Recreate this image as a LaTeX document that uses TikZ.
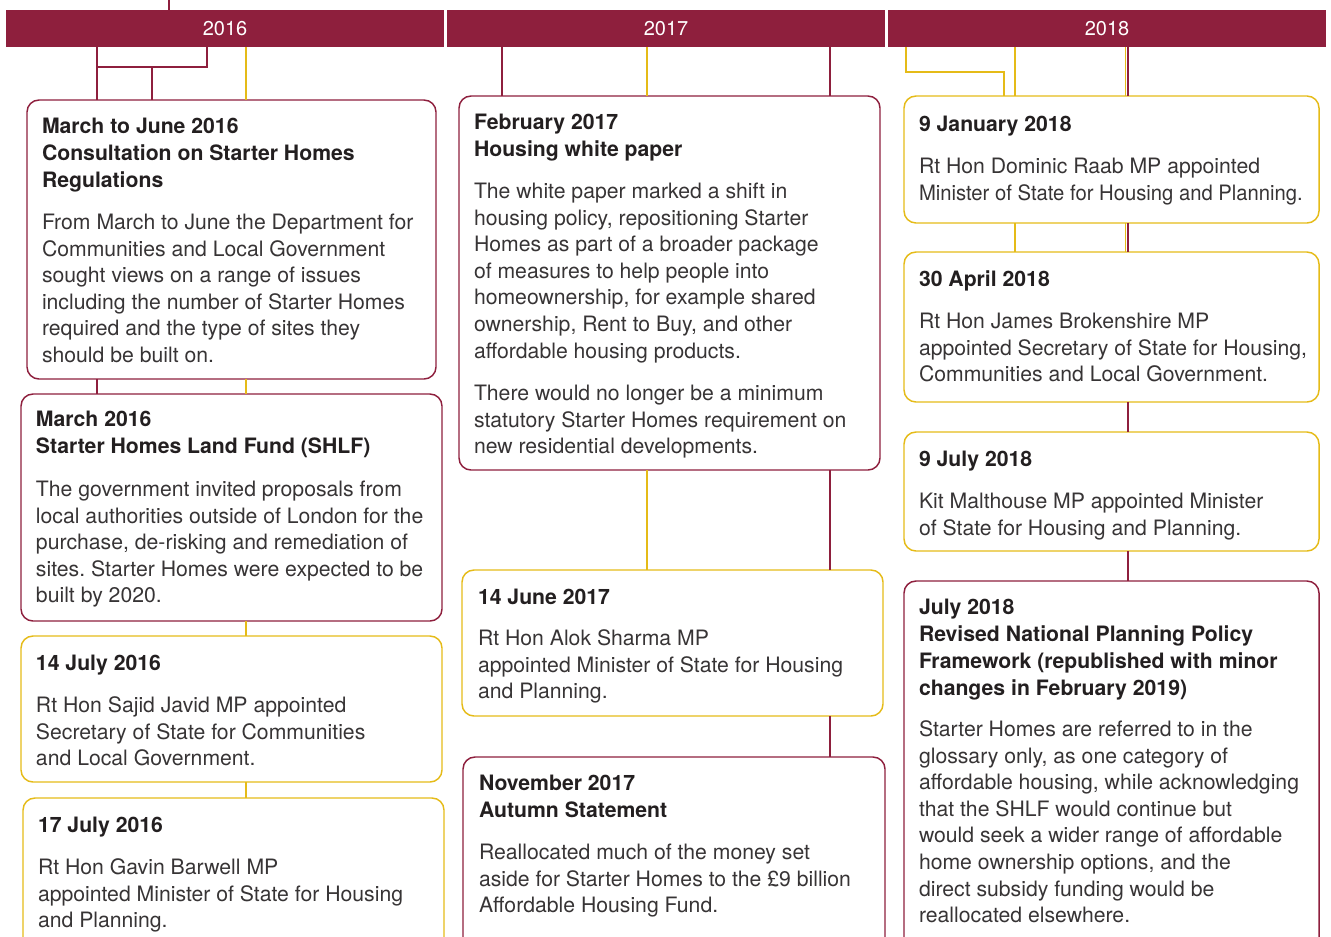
\documentclass[tikz,border=0pt]{standalone}
\usepackage{fontspec}
\setmainfont{TeX Gyre Heros}
\frenchspacing
\definecolor{maroon}{RGB}{142,31,61}
\definecolor{gold}{RGB}{229,187,24}
\definecolor{txt}{RGB}{35,31,32}
\definecolor{btxt}{RGB}{55,52,53}
\newcommand{\hd}[1]{\parbox[t]{14cm}{\raggedright\fontsize{15.9}{20.25}\selectfont\bfseries #1}}
\newcommand{\bd}[1]{\parbox[t]{14cm}{\raggedright\fontsize{15.9}{19.95}\selectfont #1}}
\newcommand{\bx}[6]{\node[#1, minimum width={(#5-#3)*0.75pt}, minimum height={(#6-#4)*0.75pt}] (#2) at (#3,#4) {};}
\begin{document}
\begin{tikzpicture}[x=0.75pt,y=-0.75pt,
  box/.style={draw, rounded corners=9pt, line width=1.1pt, outer sep=0pt, inner sep=0pt, anchor=north west},
  mbox/.style={box, draw=maroon},
  gbox/.style={box, draw=gold},
  mcon/.style={draw=maroon, line width=0.8pt},
  gcon/.style={draw=gold, line width=0.8pt},
  lbl/.style={anchor=base west, inner sep=0pt, outer sep=0pt, text=txt},
  blbl/.style={lbl, text=btxt},
  bar/.style={fill=maroon, anchor=north west, inner sep=0pt, outer sep=0pt, minimum height=27.75pt, minimum width=328.5pt, text=white, font=\fontsize{15}{18}\selectfont}]
\useasboundingbox (0,0) rectangle (1331,936);
\clip (0,0) rectangle (1331,936);

% year bars
\node[bar] (bar16) at (6,10) {2016};
\node[bar] (bar17) at (447,10) {2017};
\node[bar] (bar18) at (888,10) {2018};

% boxes column 2016
\bx{mbox}{b1}{27}{100}{436}{379}
\bx{mbox}{b2}{21}{394}{442}{621}
\bx{gbox}{b3}{21}{636}{442}{782}
\bx{gbox}{b4}{23}{798}{444}{980}
% boxes column 2017
\bx{mbox}{c1}{459}{96}{880}{470}
\bx{gbox}{c2}{462}{570}{883}{716}
\bx{mbox}{c3}{463}{757}{885}{980}
% boxes column 2018
\bx{gbox}{d1}{904}{96}{1319}{223}
\bx{gbox}{d2}{904}{252}{1319}{402}
\bx{gbox}{d3}{904}{432}{1319}{551}
\bx{mbox}{d4}{904}{581}{1319}{980}

% x positions of connectors
\coordinate (top) at (169,0);
\coordinate (xa) at (97,0);
\coordinate (xb) at (152,0);
\coordinate (xc) at (207,0);
\coordinate (xd) at (246,0);
\coordinate (k1) at (0,67);
\coordinate (xe) at (502,0);
\coordinate (xf) at (647,0);
\coordinate (xg) at (830,0);
\coordinate (xh) at (906,0);
\coordinate (xi) at (1004,0);
\coordinate (k2) at (0,72);
\coordinate (xj) at (1015,0);
\coordinate (xk) at (1125.6,0);
\coordinate (xl) at (1128,0);

% connectors 2016
\draw[mcon] (top) -- (top |- bar16.north);
\draw[mcon] (xa |- bar16.south) -- (xa |- b1.north);
\draw[mcon] (xc |- bar16.south) -- (xc |- k1) -- (xa |- k1);
\draw[mcon] (xb |- k1) -- (xb |- b1.north);
\draw[gcon] (xd |- bar16.south) -- (xd |- b1.north);
\draw[mcon] (xa |- b1.south) -- (xa |- b2.north);
\draw[gcon] (xd |- b1.south) -- (xd |- b2.north);
\draw[gcon] (xd |- b2.south) -- (xd |- b3.north);
\draw[gcon] (xd |- b3.south) -- (xd |- b4.north);
% connectors 2017
\draw[mcon] (xe |- bar17.south) -- (xe |- c1.north);
\draw[gcon] (xf |- bar17.south) -- (xf |- c1.north);
\draw[mcon] (xg |- bar17.south) -- (xg |- c1.north);
\draw[gcon] (xf |- c1.south) -- (xf |- c2.north);
\draw[mcon] (xg |- c1.south) -- (xg |- c2.north);
\draw[mcon] (xg |- c2.south) -- (xg |- c3.north);
% connectors 2018
\draw[gcon] (xh |- bar18.south) -- (xh |- k2) -- (xi |- k2) -- (xi |- d1.north);
\draw[gcon] (xj |- bar18.south) -- (xj |- d1.north);
\draw[gcon] (xk |- bar18.south) -- (xk |- d1.north);
\draw[mcon] (xl |- bar18.south) -- (xl |- d1.north);
\draw[gcon] (xj |- d1.south) -- (xj |- d2.north);
\draw[gcon] (xk |- d1.south) -- (xk |- d2.north);
\draw[mcon] (xl |- d1.south) -- (xl |- d2.north);
\draw[mcon] (xl |- d2.south) -- (xl |- d3.north);
\draw[mcon] (xl |- d3.south) -- (xl |- d4.north);

% texts 2016
\node[lbl] (t1h) at (42,133.5) {\hd{March to June 2016\\Consultation on Starter Homes\\Regulations}};
\node[blbl] (t1b) at (42,229.5) {\bd{From March to June the Department for\\Communities and Local Government\\sought views on a range of issues\\including the number of Starter Homes\\required and the type of sites they\\should be built on.}};
\node[lbl] (t2h) at (36,426.5) {\hd{March 2016\\Starter Homes Land Fund (SHLF)}};
\node[blbl] (t2b) at (36,496.5) {\bd{The government invited proposals from\\local authorities outside of London for the\\purchase, de-risking and remediation of\\sites. Starter Homes were expected to be\\built by 2020.}};
\node[lbl] (t3h) at (36,670.5) {\hd{14 July 2016}};
\node[blbl] (t3b) at (36,712.5) {\bd{Rt Hon Sajid Javid MP appointed\\Secretary of State for Communities\\and Local Government.}};
\node[lbl] (t4h) at (38,832.5) {\hd{17 July 2016}};
\node[blbl] (t4b) at (38,874.5) {\bd{Rt Hon Gavin Barwell MP\\appointed Minister of State for Housing\\and Planning.}};

% texts 2017
\node[lbl] (u1h) at (474,129.5) {\hd{February 2017\\Housing white paper}};
\node[blbl] (u1b) at (474,198.5) {\bd{The white paper marked a shift in\\housing policy, repositioning Starter\\Homes as part of a broader package\\of measures to help people into\\homeownership, for example shared\\ownership, Rent to Buy, and other\\affordable housing products.}};
\node[blbl] (u1c) at (474,400.5) {\bd{There would no longer be a minimum\\statutory Starter Homes requirement on\\new residential developments.}};
\node[lbl] (u2h) at (478,604.5) {\hd{14 June 2017}};
\node[blbl] (u2b) at (478,645.5) {\bd{Rt Hon Alok Sharma MP\\appointed Minister of State for Housing\\and Planning.}};
\node[lbl] (u3h) at (479,790.5) {\hd{November 2017\\Autumn Statement}};
\node[blbl] (u3b) at (479,859.5) {\bd{Reallocated much of the money set\\aside for Starter Homes to the £9 billion\\Affordable Housing Fund.}};

% texts 2018
\node[lbl] (v1h) at (919,131.5) {\hd{9 January 2018}};
\node[blbl] (v1b) at (919,173.5) {\bd{Rt Hon Dominic Raab MP appointed\\\scalebox{0.955}[1]{Minister of State for Housing and Planning.}}};
\node[lbl] (v2h) at (919,286.5) {\hd{30 April 2018}};
\node[blbl] (v2b) at (919,328.5) {\bd{Rt Hon James Brokenshire MP\\appointed Secretary of State for Housing,\\Communities and Local Government.}};
\node[lbl] (v3h) at (919,466.5) {\hd{9 July 2018}};
\node[blbl] (v3b) at (919,508.5) {\bd{Kit Malthouse MP appointed Minister\\of State for Housing and Planning.}};
\node[lbl] (v4h) at (919,614.5) {\hd{July 2018\\Revised National Planning Policy\\Framework (republished with minor\\changes in February 2019)}};
\node[blbl] (v4b) at (919,736.5) {\bd{Starter Homes are referred to in the\\glossary only, as one category of\\affordable housing, while acknowledging\\that the SHLF would continue but\\would seek a wider range of affordable\\home ownership options, and the\\direct subsidy funding would be\\reallocated elsewhere.}};
\end{tikzpicture}
\end{document}
